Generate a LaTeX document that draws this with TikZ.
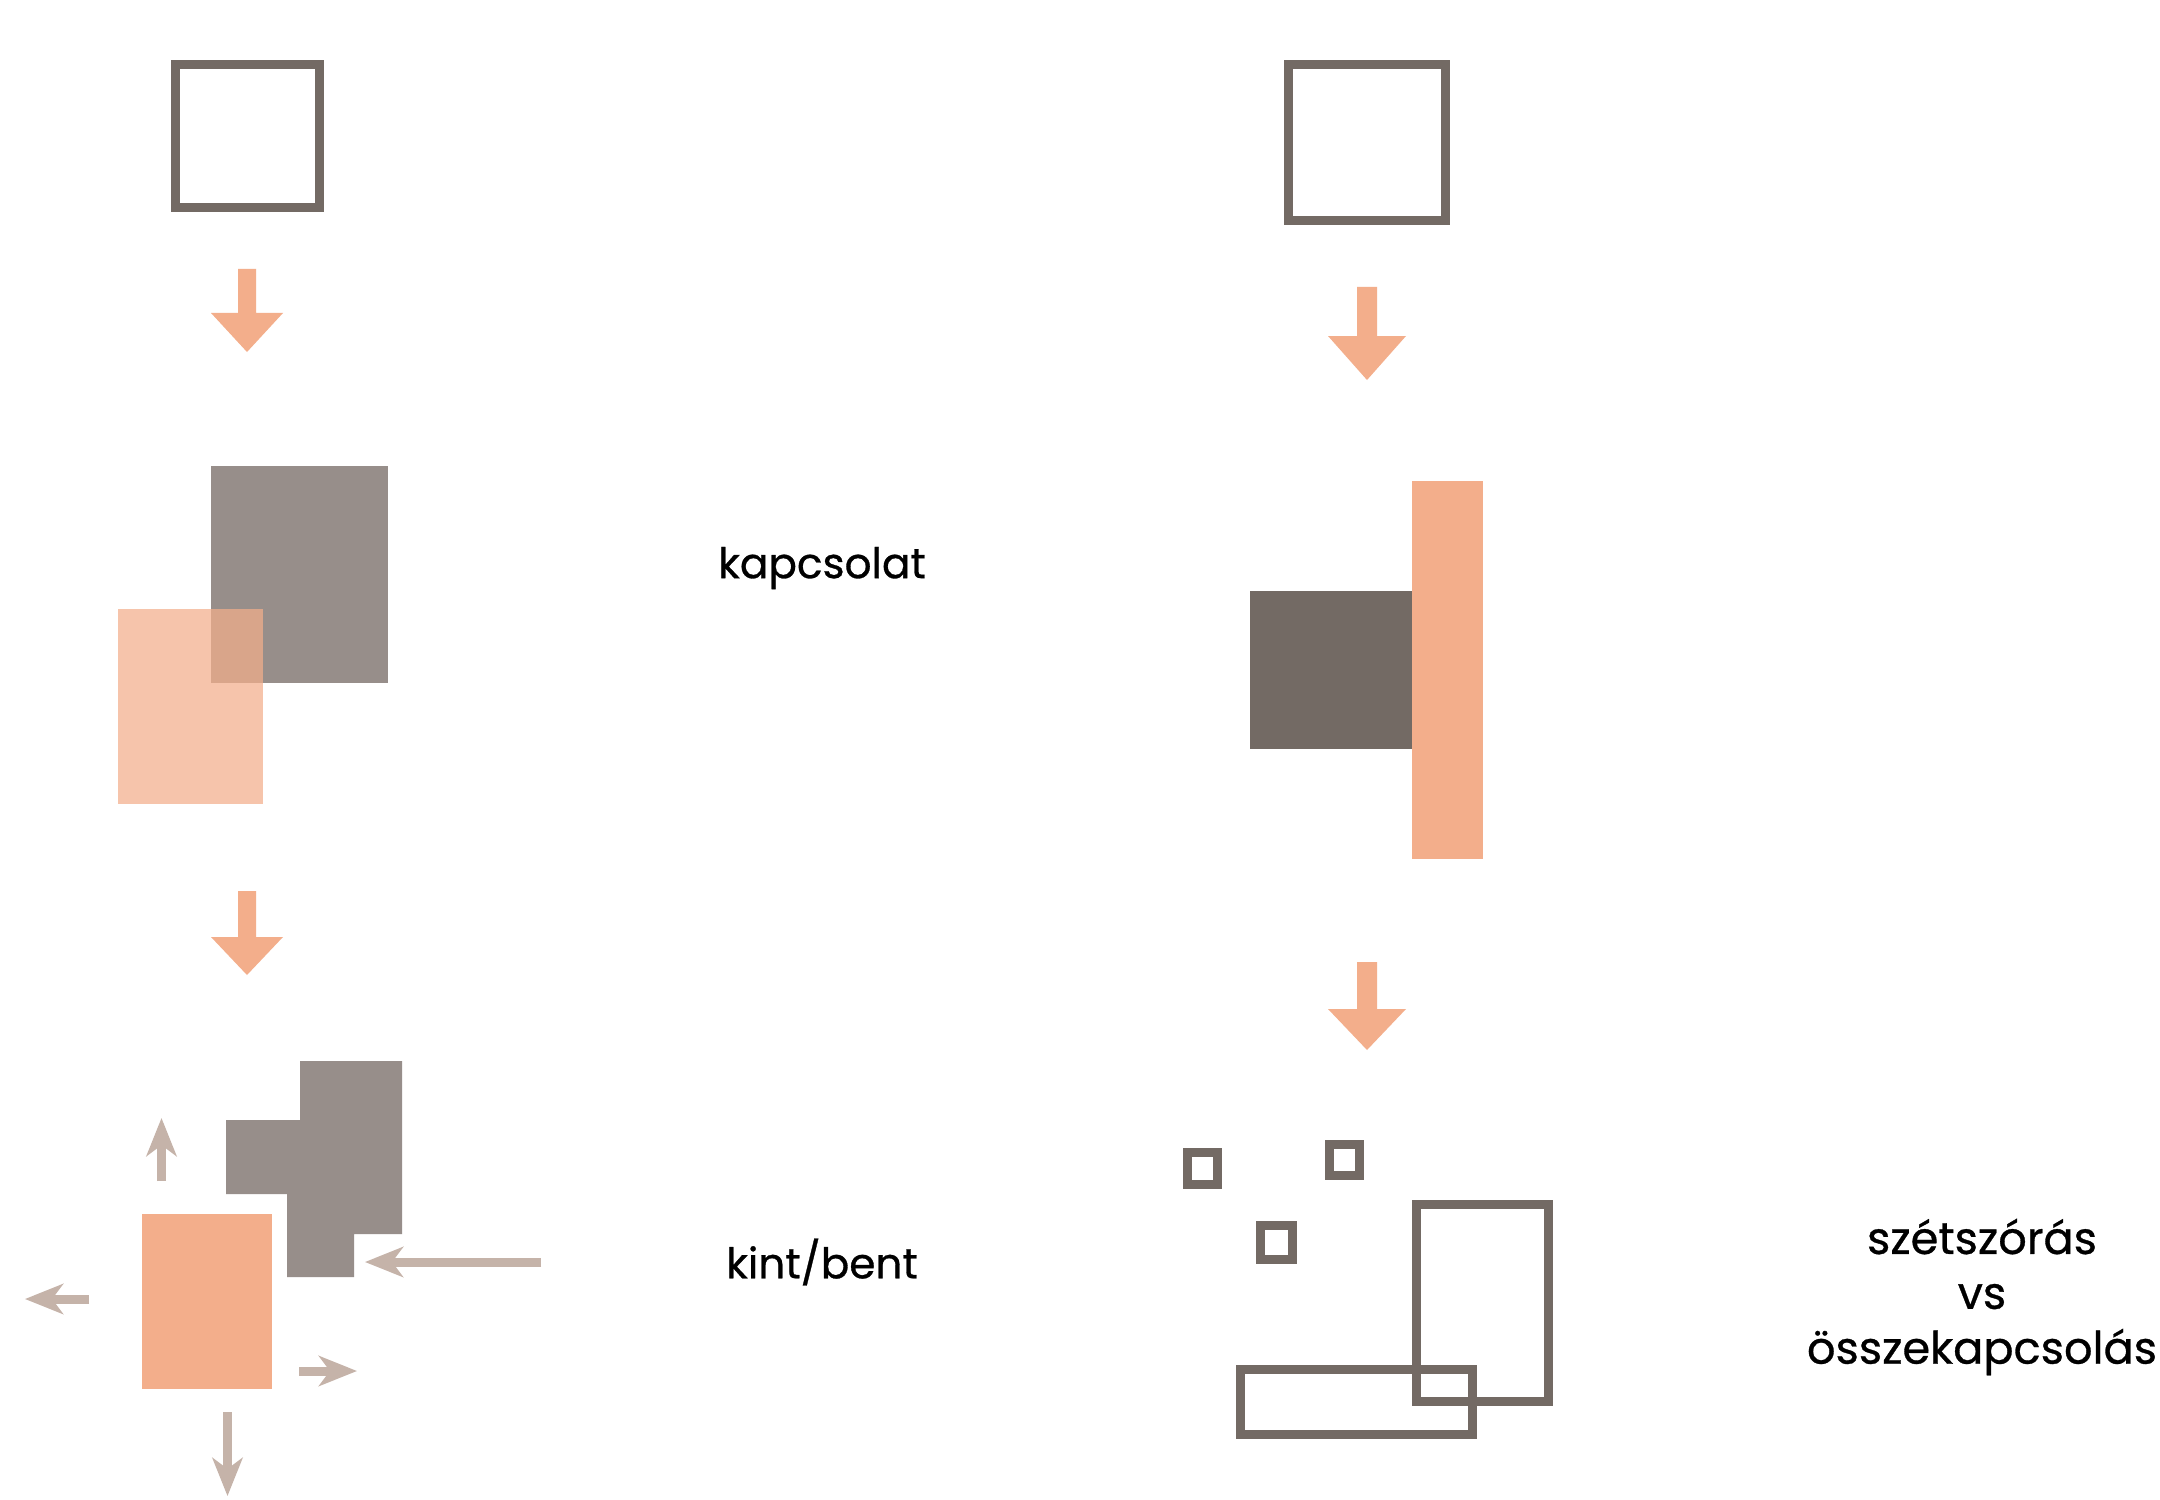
\documentclass[tikz,border=0pt]{standalone}
\usepackage{fontspec}
\setmainfont{Poppins}
\newfontfamily\lblfont{Poppins}[FakeBold=0.7]
\usetikzlibrary{arrows.meta}
\definecolor{outgray}{HTML}{736A64}
\definecolor{darkgray}{HTML}{736A64}
\definecolor{midgray}{HTML}{978E8A}
\definecolor{peach}{HTML}{F3AE8B}
\definecolor{lightarr}{HTML}{C5B3A9}
\tikzset{
  outlinebox/.style={draw=outgray, line width=0.09cm},
  fatarrow/.style={fill=peach, draw=none},
  thinarrow/.style={draw=lightarr, line width=0.09cm,
    -{Stealth[length=0.38cm, width=0.30cm, inset=0.11cm]}},
  lbl/.style={font=\lblfont\fontsize{12}{15.6}\selectfont, text=black, inner sep=0pt},
  biglbl/.style={font=\lblfont\fontsize{12.7}{15.6}\selectfont, text=black, inner sep=0pt, align=center},
}
\begin{document}
\begin{tikzpicture}[x=0.01cm, y=-0.01cm]
\useasboundingbox (0,0) rectangle (2160,1500);
\fill[white] (0,0) rectangle (2160,1500);

% ---------- left column ----------
\draw[outlinebox] (175.5,64.5) rectangle (319.5,207.5);
\fill[fatarrow] (238,269) -- (256,269) -- (256,313) -- (283,313) -- (247,352) -- (211,313) -- (238,313) -- cycle;

\fill[midgray] (211,466) rectangle (388,683);
\fill[peach, fill opacity=0.72] (118,609) rectangle (263,804);

\fill[fatarrow] (238,891) -- (256,891) -- (256,937) -- (283,937) -- (247,975) -- (211,937) -- (238,937) -- cycle;

\fill[midgray] (300,1061) -- (402,1061) -- (402,1234) -- (354,1234) -- (354,1277)
   -- (287,1277) -- (287,1194) -- (226,1194) -- (226,1120) -- (300,1120) -- cycle;
\fill[peach] (142,1214) rectangle (272,1389);

\coordinate (upS) at (161.5,1181);  \coordinate (upE) at (161.5,1118);
\coordinate (lfS) at (89,1299);     \coordinate (lfE) at (25,1299);
\coordinate (lgS) at (541,1262);    \coordinate (lgE) at (365,1262);
\coordinate (rtS) at (299,1371);    \coordinate (rtE) at (357,1371);
\coordinate (dnS) at (227.5,1412);  \coordinate (dnE) at (227.5,1496);
\draw[thinarrow] (upS) -- (upE);
\draw[thinarrow] (lfS) -- (lfE);
\draw[thinarrow] (lgS) -- (lgE);
\draw[thinarrow] (rtS) -- (rtE);
\draw[thinarrow] (dnS) -- (dnE);

\node[lbl] (kapcs) at (822,568) {kapcsolat};
\node[lbl] (kint) at (822,1262) {kint/bent};

% ---------- right column ----------
\draw[outlinebox] (1288.5,64.5) rectangle (1445.5,220.5);
\fill[fatarrow] (1357,287) -- (1377,287) -- (1377,336) -- (1406,336) -- (1367,380) -- (1328,336) -- (1357,336) -- cycle;

\fill[darkgray] (1250,591) rectangle (1412,749);
\fill[peach] (1412,481) rectangle (1483,859);

\fill[fatarrow] (1357,962) -- (1377,962) -- (1377,1009) -- (1406,1009) -- (1367,1050) -- (1328,1009) -- (1357,1009) -- cycle;

\draw[outlinebox] (1187.5,1152.5) rectangle (1217.5,1184.5);
\draw[outlinebox] (1329.5,1144.5) rectangle (1359.5,1175.5);
\draw[outlinebox] (1260.5,1225.5) rectangle (1292.5,1259.5);
\draw[outlinebox] (1416.5,1204.5) rectangle (1548.5,1401.5);
\draw[outlinebox] (1240.5,1369.5) rectangle (1472.5,1434.5);

\node[biglbl] (szet) at (1982,1297) {szétszórás\\vs\\összekapcsolás};
\end{tikzpicture}
\end{document}
